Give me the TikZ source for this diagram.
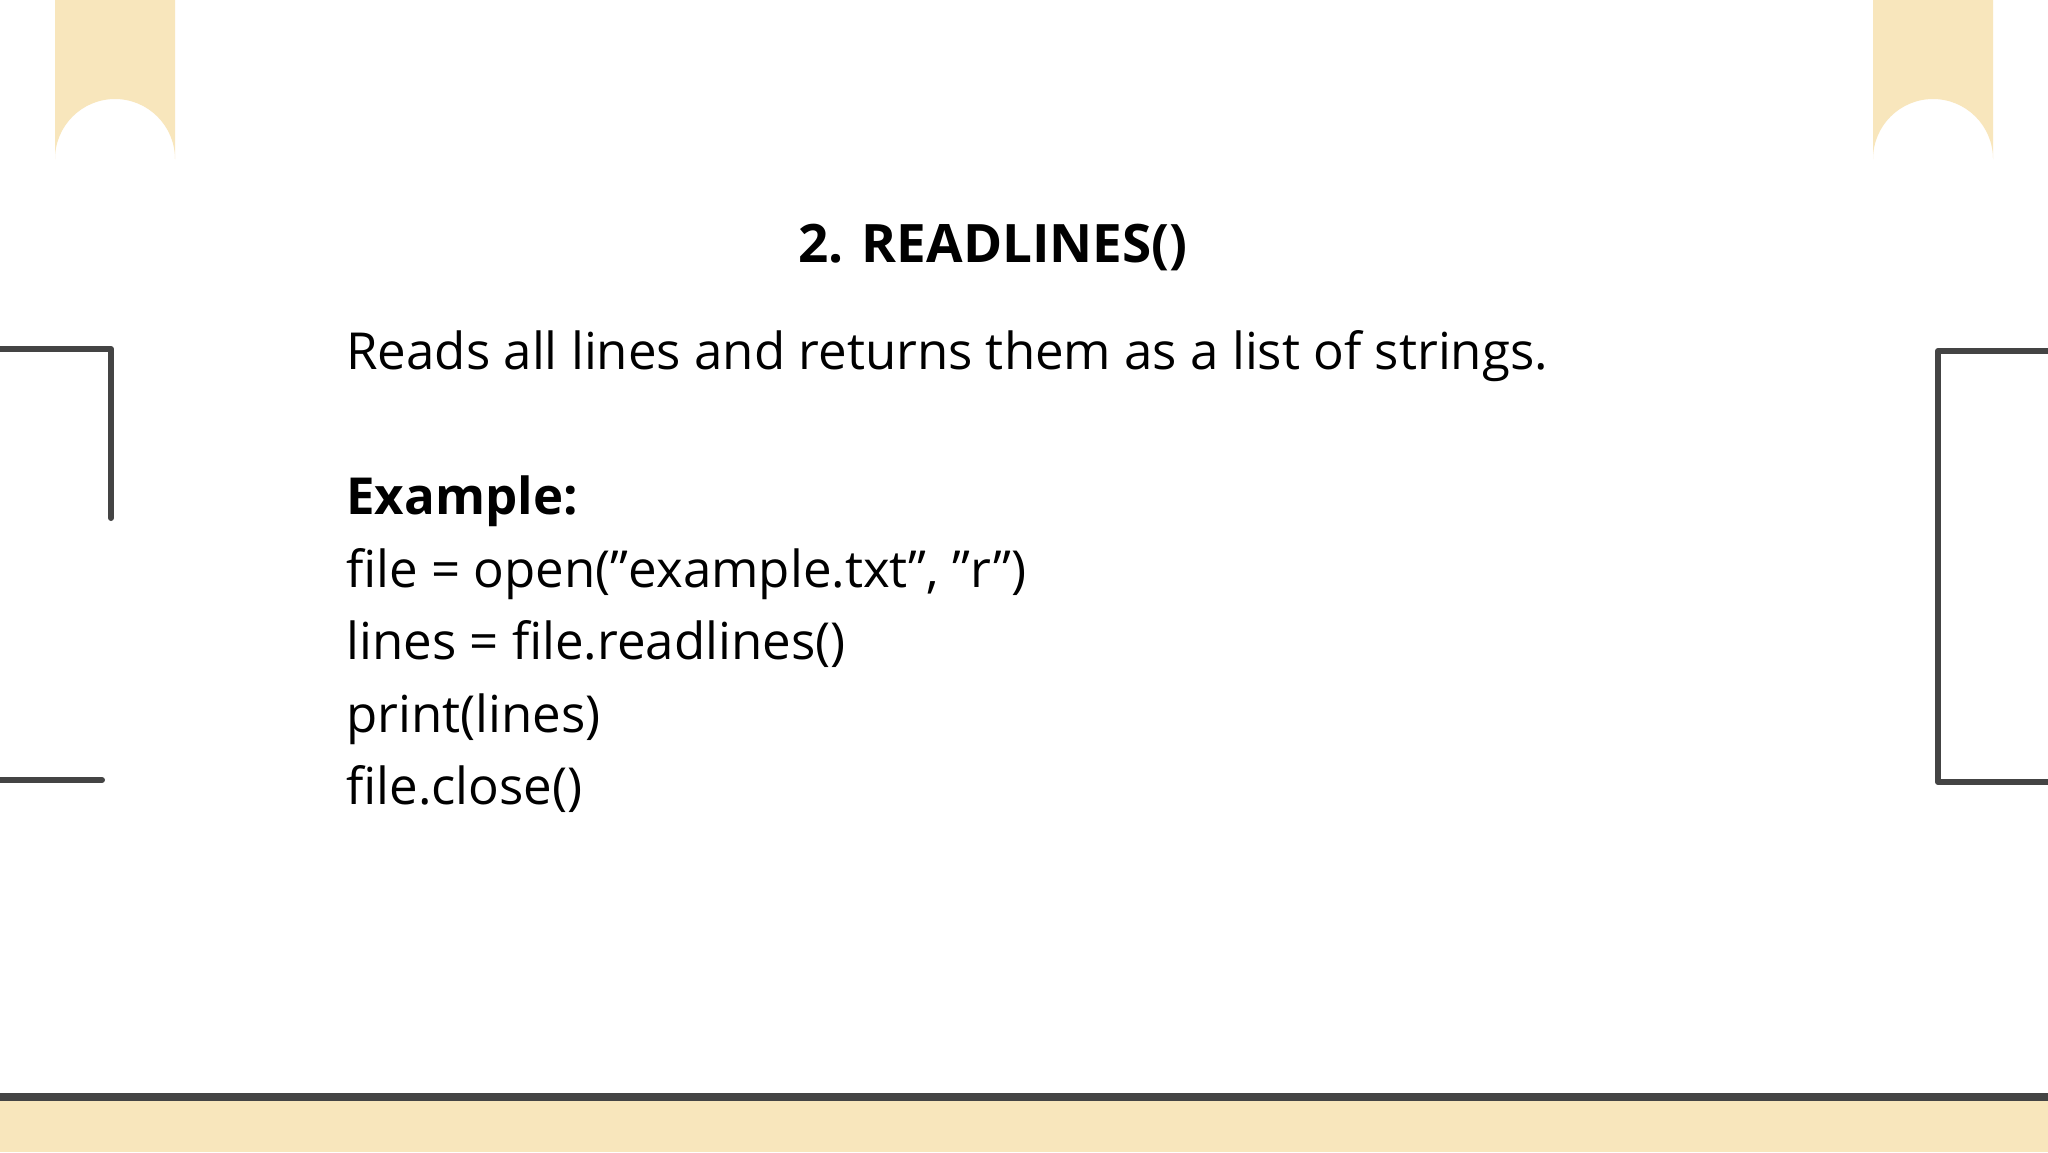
\documentclass[tikz,border=0pt]{standalone}
\usepackage{fontspec}
\setmainfont{Open Sans}
\definecolor{beige}{HTML}{F8E6BC}
\definecolor{ink}{HTML}{444444}
\begin{document}
\begin{tikzpicture}[x=0.5pt,y=-0.5pt,
  frame/.style={draw=ink,line width=3pt,line cap=round,line join=round},
  body/.style={anchor=base west,inner sep=0,font=\fontsize{25.5}{30}\selectfont}]
\useasboundingbox (0,0) rectangle (2048,1152);
\fill[white] (0,0) rectangle (2048,1152);
% pills
\fill[beige] (55,0) -- (55,159) arc[start angle=180,end angle=360,x radius=30pt,y radius=-30pt] -- (175,0) -- cycle;
\fill[beige] (1873,0) -- (1873,159) arc[start angle=180,end angle=360,x radius=30pt,y radius=-30pt] -- (1993,0) -- cycle;
% brackets
\draw[frame] (0,349) -- (111,349) -- (111,518);
\draw[frame] (0,780) -- (102,780);
\draw[frame] (2048,351) -- (1938,351) -- (1938,782) -- (2048,782);
% bottom
\fill[beige] (0,1100) rectangle (2048,1152);
\fill[ink] (0,1093) rectangle (2048,1101);
% text
\node[anchor=base,inner sep=0,font=\bfseries\fontsize{26.5}{30}\selectfont] (title) at (993,262) {2. READLINES()};
\node[body] (l1) at (346,369) {Reads all lines and returns them as a list of strings.};
\node[body,font=\bfseries\fontsize{25.5}{30}\selectfont] (l2) at (346,514) {Example:};
\node[body] (l3) at (346,587) {file = open("example.txt", "r")};
\node[body] (l4) at (346,659) {lines = file.readlines()};
\node[body] (l5) at (346,732) {print(lines)};
\node[body] (l6) at (346,804) {file.close()};
\end{tikzpicture}
\end{document}
